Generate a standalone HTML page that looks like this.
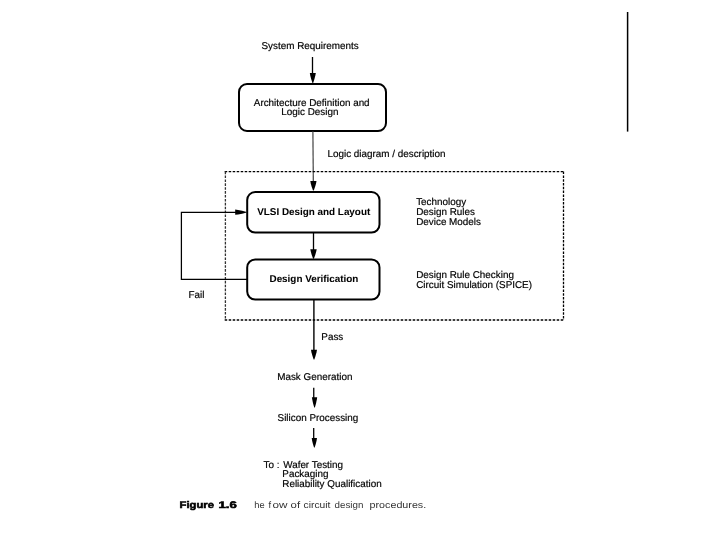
<!DOCTYPE html>
<html><head><meta charset="utf-8">
<style>
html,body{margin:0;padding:0;background:#fff;}
body{width:720px;height:540px;overflow:hidden;position:relative;}
svg{position:absolute;left:0;top:0;will-change:transform;text-rendering:geometricPrecision;}
text{font-family:"Liberation Sans",sans-serif;font-size:9.9px;fill:#000;stroke:#000;stroke-width:0.18px;}
.b{font-weight:bold;stroke-width:0.05px;}
.fig{font-weight:bold;font-size:9.5px;stroke-width:0.55px;}
.cap{fill:#333;stroke:none;font-size:9.3px;}
</style></head><body>
<svg width="720" height="540" viewBox="0 0 720 540">
<line x1="627.6" y1="12" x2="627.6" y2="131.6" stroke="#000" stroke-width="1.5"/>

<text x="261.5" y="49.1">System Requirements</text>
<line x1="312.5" y1="57" x2="312.5" y2="75" stroke="#000" stroke-width="1.3"/>
<polygon points="309.80,73.00 315.80,73.00 315.35,75.50 314.45,79.00 313.16,83.00 312.44,83.00 311.15,79.00 310.25,75.50" fill="#000"/>

<rect x="239" y="84" width="147" height="47" rx="8" ry="8" fill="none" stroke="#000" stroke-width="2"/>
<text x="253.8" y="106.4">Architecture Definition and</text>
<text x="281.3" y="115.3">Logic Design</text>

<line x1="312.9" y1="131" x2="313.3" y2="183" stroke="#333" stroke-width="1.1"/>
<text x="327.5" y="156.7">Logic diagram / description</text>
<polygon points="310.30,181.00 316.50,181.00 316.03,183.38 315.10,186.70 313.77,190.50 313.03,190.50 311.69,186.70 310.76,183.38" fill="#000"/>

<g fill="none" stroke-dasharray="2.5,1.5">
<line x1="224.7" y1="171.6" x2="564" y2="171.6" stroke="#000" stroke-width="1.4"/>
<line x1="224.7" y1="320" x2="564" y2="320" stroke="#000" stroke-width="1.5"/>
<line x1="225.4" y1="171.6" x2="225.4" y2="320" stroke="#333" stroke-width="1.3" stroke-dasharray="2.6,1.3"/>
<line x1="563.5" y1="171.6" x2="563.5" y2="320" stroke="#000" stroke-width="1.3" stroke-dasharray="2.5,1.3"/>
</g>

<rect x="247.2" y="192" width="132.3" height="40.6" rx="8" ry="8" fill="none" stroke="#000" stroke-width="2"/>
<text class="b" x="257.2" y="215.4">VLSI Design and Layout</text>

<line x1="313.5" y1="232" x2="313.5" y2="251" stroke="#000" stroke-width="1.3"/>
<polygon points="310.30,249.20 316.70,249.20 316.22,251.60 315.26,254.96 313.88,258.80 313.12,258.80 311.74,254.96 310.78,251.60" fill="#000"/>

<rect x="247.2" y="259.4" width="132.3" height="40.2" rx="8" ry="8" fill="none" stroke="#000" stroke-width="2"/>
<text class="b" x="269.5" y="282.1">Design Verification</text>

<polyline points="247,279.3 181.4,279.3 181.4,212.4 238,212.4" fill="none" stroke="#000" stroke-width="1.25"/>
<polygon points="235.20,209.60 235.20,214.80 238.07,214.41 242.10,213.63 246.70,212.51 246.70,211.89 242.10,210.77 238.07,209.99" fill="#000"/>
<text x="188.5" y="297.8">Fail</text>

<text x="416.2" y="205.2">Technology</text>
<text x="416.2" y="214.7">Design Rules</text>
<text x="416.2" y="224.9">Device Models</text>
<text x="416.2" y="278.1">Design Rule Checking</text>
<text x="416.2" y="288.0">Circuit Simulation (SPICE)</text>

<line x1="313.9" y1="299.5" x2="313.9" y2="351" stroke="#000" stroke-width="1.4"/>
<polygon points="311.00,349.80 317.00,349.80 316.55,352.20 315.65,355.56 314.36,359.40 313.64,359.40 312.35,355.56 311.45,352.20" fill="#000"/>
<text x="321.3" y="340.2">Pass</text>

<text x="277.2" y="380.3">Mask Generation</text>
<line x1="313.75" y1="387.7" x2="313.75" y2="399" stroke="#000" stroke-width="1.3"/>
<polygon points="311.90,397.20 317.20,397.20 316.80,399.77 316.01,403.38 314.87,407.50 314.23,407.50 313.09,403.38 312.30,399.77" fill="#000"/>
<text x="277.6" y="420.8">Silicon Processing</text>
<line x1="313.7" y1="428" x2="313.7" y2="440" stroke="#000" stroke-width="1.3"/>
<polygon points="311.70,438.00 317.00,438.00 316.60,440.38 315.81,443.70 314.67,447.50 314.03,447.50 312.89,443.70 312.10,440.38" fill="#000"/>

<text x="263.6" y="468.2">To :</text>
<text x="283.2" y="468.2">Wafer Testing</text>
<text x="282.3" y="477.3">Packaging</text>
<text x="282.3" y="486.7">Reliability Qualification</text>

<g>
<text class="fig" x="179.6" y="507.7" textLength="34.3" lengthAdjust="spacingAndGlyphs">Figure</text>
<text class="fig" x="218.4" y="507.7" textLength="18.4" lengthAdjust="spacingAndGlyphs">1.6</text>
</g>
<g>
<text class="cap" x="254.3" y="508.1">he</text>
<text class="cap" x="268.5" y="508.1">f</text>
<text class="cap" x="272.6" y="508.1" lengthAdjust="spacingAndGlyphs" textLength="15">ow</text>
<text class="cap" x="290.6" y="508.1" lengthAdjust="spacingAndGlyphs" textLength="9.5">of</text>
<text class="cap" x="303.6" y="508.1" lengthAdjust="spacingAndGlyphs" textLength="26.8">circuit</text>
<text class="cap" x="334.6" y="508.1" lengthAdjust="spacingAndGlyphs" textLength="28.8">design</text>
<text class="cap" x="369.6" y="508.1" lengthAdjust="spacingAndGlyphs" textLength="56.6">procedures.</text>
</g>
</svg>
</body></html>
